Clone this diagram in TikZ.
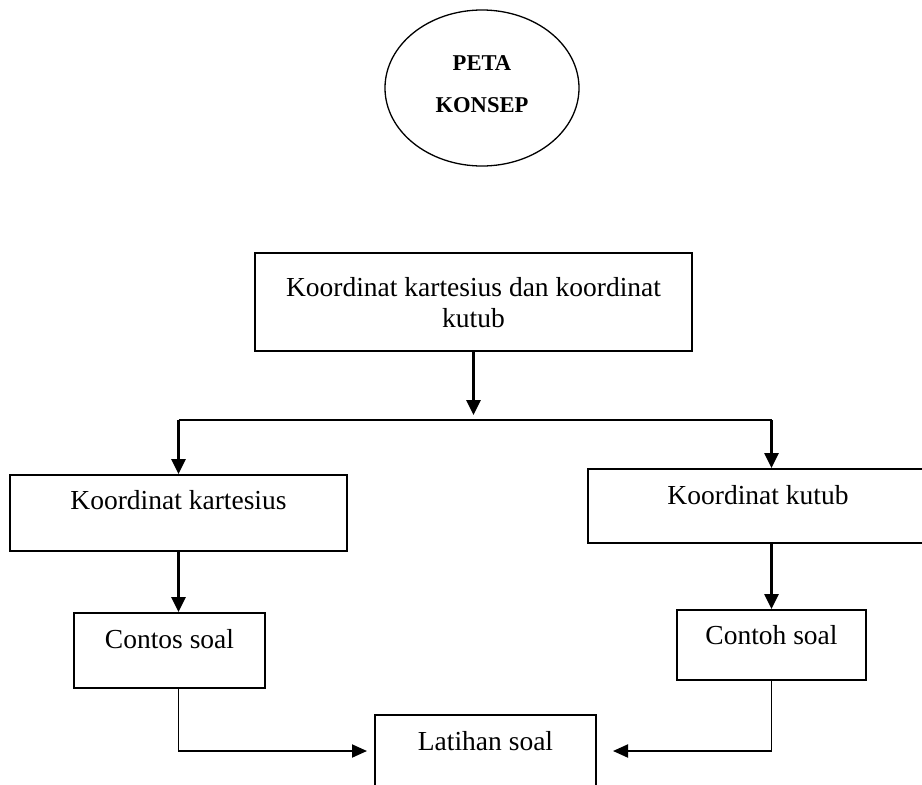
\documentclass[tikz,border=0pt]{standalone}
\usepackage{fontspec}
\setmainfont{Liberation Serif}
\usetikzlibrary{arrows.meta,positioning,shapes.geometric}

\tikzset{
  kotak/.style={draw, line width=2pt, inner sep=0pt, align=center, anchor=north west,
    font=\fontsize{27.5}{31}\selectfont},
  panah/.style={line width=2.6pt, -{Triangle[length=15pt,width=14pt]}},
  garis/.style={line width=1.9pt, -{Triangle[length=15pt,width=13pt]}},
}

\begin{document}
\begin{tikzpicture}[x=1pt,y=-1pt]
  \clip (0,0) rectangle (922,785);

  % judul
  \node[ellipse, draw, line width=1.3pt, minimum width=194pt, minimum height=156pt,
        inner sep=0pt, align=center, text height=58pt, text depth=10pt,
        font=\fontsize{22.6}{42}\selectfont\bfseries]
    (judul) at (482,88) {PETA\\KONSEP};

  % kotak
  \node[kotak, minimum width=437pt, text height=74pt, text depth=24pt] (utama) at (254,252)
    {Koordinat kartesius dan koordinat\\kutub};
  \node[kotak, minimum width=337pt, text height=34pt, text depth=42pt] (kartesius) at (9,474)
    {Koordinat kartesius};
  \node[kotak, minimum width=340pt, text height=35pt, text depth=39pt] (kutub) at (587,468)
    {Koordinat kutub};
  \node[kotak, minimum width=191pt, text height=35pt, text depth=40pt] (soalkar) at (73,612)
    {Contos soal};
  \node[kotak, minimum width=189pt, text height=34pt, text depth=36pt] (soalkut) at (676,609)
    {Contoh soal};
  \node[kotak, minimum width=221pt, text height=35pt, text depth=37pt] (latihan) at (374,714)
    {Latihan soal};

  % panah
  \path (utama.south) ++(0,68) coordinate (cabang);
  \draw[panah] (utama.south) -- ([yshift=5pt]cabang);
  \draw[line width=1.9pt] (cabang -| kartesius.north) -- (cabang -| soalkut.north);
  \draw[panah] (cabang -| kartesius.north) -- (kartesius.north);
  \draw[panah] (cabang -| soalkut.north) -- (kutub.north -| soalkut.north);
  \draw[panah] (kartesius.south) -- (kartesius.south |- soalkar.north);
  \draw[panah] (kutub.south -| soalkut.north) -- (soalkut.north);
  \draw[garis] (kartesius.south |- soalkar.south) |- ([xshift=-7pt]latihan.west);
  \draw[garis] (soalkut.south) |- ([xshift=16pt]latihan.east);

\end{tikzpicture}
\end{document}
